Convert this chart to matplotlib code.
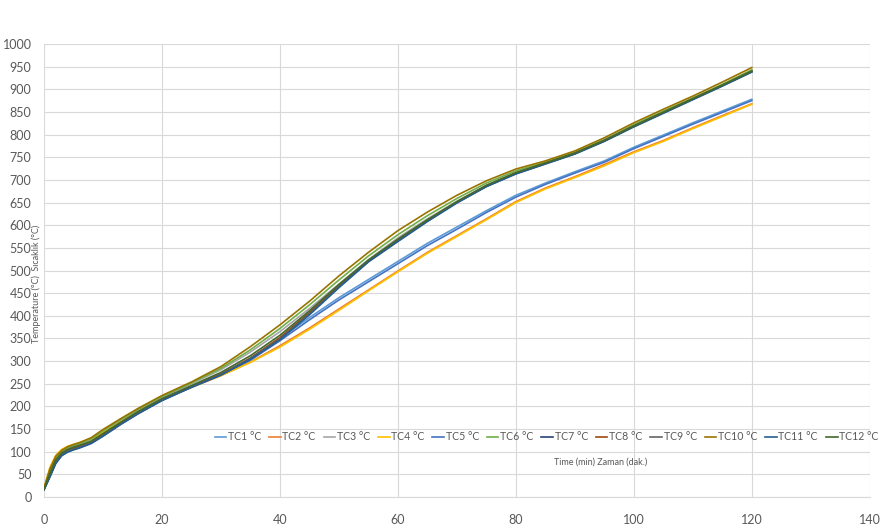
import matplotlib
matplotlib.use("Agg")
import matplotlib.pyplot as plt

# time axis (min)
time_min = [0, 1, 2, 3, 4, 5, 6, 8, 10, 13, 16, 20, 25, 30, 35, 40, 45, 50, 55,
            60, 65, 70, 75, 80, 85, 90, 95, 100, 105, 110, 115, 120]

# thermocouple readings (°C)
tc1 = [18, 50, 80, 95, 103, 108, 112, 122, 138, 163, 186, 214, 244, 272, 305, 350, 396, 440, 480,
       520, 560, 596, 632, 666, 693, 718, 742, 772, 799, 826, 852, 878]
tc2 = [18, 60, 90, 103, 110, 114, 118, 127, 141, 165, 187, 214, 242, 268, 298, 334, 373, 415, 457,
       499, 540, 577, 614, 652, 682, 707, 734, 762, 787, 815, 842, 868]
tc3 = [17, 55, 85, 100, 108, 113, 117, 127, 144, 169, 192, 220, 250, 281, 320, 365, 416, 470, 524,
       572, 614, 653, 688, 716, 736, 758, 786, 819, 850, 879, 909, 941]
tc4 = [20, 65, 92, 105, 112, 116, 120, 128, 142, 166, 188, 215, 243, 268, 297, 331, 370, 412, 455,
       497, 538, 575, 612, 650, 680, 705, 731, 760, 785, 813, 840, 867]
tc5 = [17, 48, 78, 93, 101, 106, 110, 120, 137, 162, 185, 213, 243, 270, 302, 345, 391, 435, 475,
       515, 555, 591, 628, 662, 690, 715, 739, 769, 796, 823, 849, 875]
tc6 = [18, 58, 87, 101, 109, 114, 118, 128, 146, 171, 194, 222, 252, 284, 325, 372, 424, 479, 532,
       579, 621, 659, 693, 720, 739, 761, 789, 822, 852, 881, 911, 943]
tc7 = [16, 45, 75, 92, 100, 105, 109, 119, 135, 161, 185, 214, 243, 270, 305, 350, 405, 464, 520,
       566, 610, 650, 686, 714, 736, 758, 786, 818, 848, 878, 908, 939]
tc8 = [17, 50, 80, 95, 103, 108, 112, 121, 138, 163, 187, 215, 244, 271, 307, 352, 407, 466, 521,
       567, 611, 651, 687, 715, 737, 759, 787, 819, 849, 879, 909, 940]
tc9 = [16, 46, 76, 93, 101, 106, 110, 120, 136, 162, 186, 214, 243, 270, 306, 349, 404, 464, 520,
       565, 609, 650, 686, 714, 736, 758, 786, 818, 848, 878, 908, 939]
tc10 = [19, 62, 90, 103, 111, 116, 120, 131, 149, 173, 196, 224, 254, 288, 332, 380, 432, 488, 540,
        588, 629, 666, 698, 724, 742, 764, 793, 826, 856, 885, 916, 948]
tc11 = [16, 44, 74, 91, 99, 104, 108, 118, 134, 160, 184, 213, 242, 269, 304, 347, 402, 462, 519,
        564, 608, 649, 685, 713, 735, 757, 785, 817, 847, 877, 907, 938]
tc12 = [17, 52, 82, 97, 105, 110, 114, 123, 140, 165, 189, 217, 246, 275, 312, 357, 411, 469, 523,
        569, 612, 652, 688, 716, 737, 759, 787, 819, 849, 879, 909, 940]

series = [tc1, tc2, tc3, tc4, tc5, tc6, tc7, tc8, tc9, tc10, tc11, tc12]
labels = [f"TC{i} °C" for i in range(1, 13)]
colors = ["#5B9BD5", "#ED7D31", "#A5A5A5", "#FFC000", "#4472C4", "#70AD47",
          "#264478", "#9E480E", "#636363", "#997300", "#255E91", "#43682B"]

plt.rcParams["font.family"] = ["Lato", "DejaVu Sans"]
text_gray = "#595959"

fig = plt.figure(figsize=(8.83, 5.25), dpi=100)
ax = fig.add_axes([0.0498, 0.0533, 0.9352, 0.8629])

for vals, lab, col in zip(series, labels, colors):
    ax.plot(time_min, vals, color=col, lw=1.2, label=lab)

ax.set_xlim(0, 140)
ax.set_ylim(0, 1000)
ax.set_xticks(range(0, 141, 20))
ax.set_yticks(range(0, 1001, 50))
ax.grid(True, color="#D9D9D9", lw=0.8)
ax.set_axisbelow(True)
for side in ["top", "left", "right"]:
    ax.spines[side].set_visible(False)
ax.spines["bottom"].set_color("#D9D9D9")
ax.tick_params(length=0, colors=text_gray, labelsize=9)
ax.tick_params(axis="y", pad=9)
ax.tick_params(axis="x", pad=12)

fig.legend(loc="center", bbox_to_anchor=(0.619, 0.168), ncol=12, frameon=False,
           fontsize=7.6, handlelength=1.1, handletextpad=0.15, columnspacing=0.75,
           labelcolor=text_gray, borderpad=0.2)

fig.text(0.68, 0.12, "Time (min) Zaman (dak.)", fontsize=6.5, color=text_gray,
         ha="center", va="center")
fig.text(0.041, 0.46, "Temperature (°C)  Sıcaklık (°C)", fontsize=6.5, color=text_gray,
         rotation=90, ha="center", va="center")

fig.savefig("out.png", dpi=100)
